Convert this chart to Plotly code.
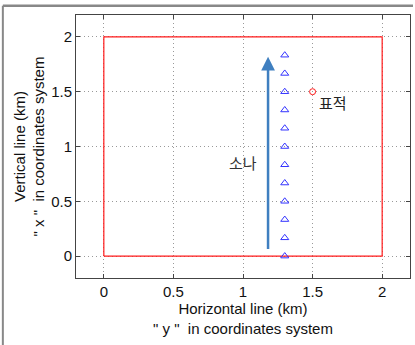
import plotly.graph_objects as go

# data
sonar_x = [1.3] * 12
sonar_y = [0, 1/6, 2/6, 3/6, 4/6, 5/6, 1.0, 7/6, 8/6, 9/6, 10/6, 11/6]
target_x = [1.5]
target_y = [1.5]
rect_x = [0, 2, 2, 0, 0]
rect_y = [0, 0, 2, 2, 0]
arrow_x = 1.18
arrow_y0 = 0.05
arrow_y1 = 1.82
tick_vals = [0, 0.5, 1, 1.5, 2]
tick_text = ["0", "0.5", "1", "1.5", "2"]

fig = go.Figure()
fig.add_trace(go.Scatter(x=rect_x, y=rect_y, mode="lines",
                         line=dict(color="#ff1a1a", width=1.2), showlegend=False))
fig.add_trace(go.Scatter(x=sonar_x, y=sonar_y, mode="markers",
                         marker=dict(symbol="triangle-up-open", size=7, color="#3333ff", line=dict(width=1)),
                         showlegend=False))
fig.add_trace(go.Scatter(x=target_x, y=target_y, mode="markers",
                         marker=dict(symbol="circle-open", size=6, color="#ff1a1a", line=dict(width=1)),
                         showlegend=False))

fig.add_annotation(x=arrow_x, y=arrow_y1, ax=arrow_x, ay=arrow_y0, xref="x", yref="y",
                   axref="x", ayref="y", showarrow=True, arrowhead=2, arrowsize=1.1,
                   arrowwidth=2.5, arrowcolor="#3f7fc0", text="")
fig.add_annotation(x=1.0, y=0.85, text="소나", showarrow=False,
                   font=dict(family="Noto Sans CJK KR", size=15, color="#333333"))
fig.add_annotation(x=1.53, y=1.4, text="표적", showarrow=False, xanchor="left",
                   font=dict(family="Noto Sans CJK KR", size=15, color="#222222"))

# frame border of the screenshot
fig.add_shape(type="line", xref="paper", yref="paper", x0=-0.219, x1=1.009, y0=1.035, y1=1.035,
              line=dict(color="#888888", width=2.5))
fig.add_shape(type="line", xref="paper", yref="paper", x0=-0.219, x1=-0.219, y0=-0.3, y1=1.035,
              line=dict(color="#888888", width=2))

axis_common = dict(showgrid=True, gridcolor="#999999", griddash="1px,3px", gridwidth=1,
                   zeroline=False, showline=True, linecolor="#444444", linewidth=1,
                   mirror="ticks", ticks="inside", ticklen=4, tickcolor="#444444",
                   automargin=False,
                   tickfont=dict(family="Arial", size=15, color="#111111"))

fig.update_xaxes(range=[-0.2, 2.2], tickvals=tick_vals, ticktext=tick_text,
                 title=dict(text="Horizontal line (km)<br>\" y \"  in coordinates system",
                            font=dict(family="Arial", size=15, color="#111111"), standoff=2),
                 **axis_common)
fig.update_yaxes(range=[-0.2, 2.2], tickvals=tick_vals, ticktext=tick_text,
                 title=dict(text="Vertical line (km)<br>\" x \"  in coordinates system",
                            font=dict(family="Arial", size=15, color="#111111"), standoff=2),
                 **axis_common)

fig.update_layout(width=415, height=345, margin=dict(l=76, r=5, t=15, b=67),
                  plot_bgcolor="white", paper_bgcolor="white")

fig.write_html("out.html", config={"displayModeBar": False},
               post_script="document.body.style.margin='0';")
